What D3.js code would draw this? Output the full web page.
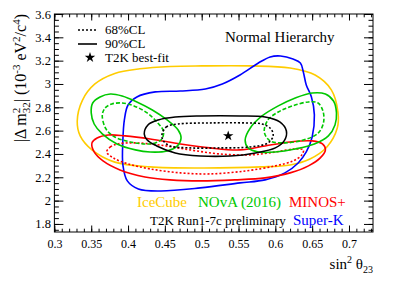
<!DOCTYPE html>
<html><head><meta charset="utf-8">
<script src="https://cdn.jsdelivr.net/npm/d3@7"></script>
<style>
body{margin:0;background:#fff}
svg{display:block}
text{font-family:"Liberation Serif","Times New Roman",serif}
</style>
</head><body>
<svg id="c" width="415" height="281"></svg>
<script>
// ---------- data (sin^2 theta23, |dm^2_32| in 1e-3 eV^2) ----------
const xTicks = [0.3,0.35,0.4,0.45,0.5,0.55,0.6,0.65,0.7];
const xTickLabels = ["0.3","0.35","0.4","0.45","0.5","0.55","0.6","0.65","0.7"];
const yTicks = [1.8,2.0,2.2,2.4,2.6,2.8,3.0,3.2,3.4,3.6];
const yTickLabels = ["1.8","2","2.2","2.4","2.6","2.8","3","3.2","3.4","3.6"];

const iceCube90 = [[0.331,2.68],[0.338,2.86],[0.355,3.00],[0.382,3.09],[0.416,3.13],[0.457,3.15],[0.50,3.155],[0.566,3.155],[0.62,3.137],[0.654,3.077],[0.676,2.95],[0.685,2.76],[0.684,2.62],[0.670,2.46],[0.647,2.357],[0.62,2.306],[0.58,2.289],[0.50,2.28],[0.43,2.289],[0.382,2.33],[0.351,2.435],[0.335,2.555]];

const novaL90 = [[0.350,2.752],[0.352,2.837],[0.362,2.889],[0.376,2.914],[0.392,2.897],[0.412,2.846],[0.433,2.777],[0.453,2.692],[0.468,2.606],[0.472,2.537],[0.467,2.469],[0.453,2.426],[0.430,2.417],[0.410,2.435],[0.385,2.486],[0.365,2.572],[0.354,2.657]];
const novaL68 = [[0.365,2.735],[0.369,2.795],[0.378,2.829],[0.392,2.837],[0.408,2.812],[0.426,2.752],[0.439,2.675],[0.448,2.597],[0.446,2.529],[0.437,2.495],[0.423,2.486],[0.403,2.503],[0.382,2.546],[0.370,2.615]];
const novaR90 = [[0.559,2.520],[0.566,2.623],[0.582,2.726],[0.604,2.812],[0.627,2.880],[0.650,2.923],[0.668,2.914],[0.679,2.854],[0.683,2.752],[0.681,2.649],[0.672,2.555],[0.653,2.486],[0.627,2.443],[0.600,2.417],[0.577,2.417],[0.563,2.452]];
const novaR68 = [[0.585,2.589],[0.590,2.692],[0.604,2.760],[0.623,2.812],[0.645,2.846],[0.658,2.837],[0.665,2.760],[0.665,2.657],[0.657,2.572],[0.638,2.520],[0.613,2.495],[0.593,2.512]];

const t2k90 = [[0.422,2.572],[0.427,2.649],[0.441,2.692],[0.464,2.717],[0.498,2.726],[0.552,2.726],[0.586,2.717],[0.606,2.675],[0.615,2.597],[0.612,2.512],[0.600,2.452],[0.573,2.409],[0.539,2.383],[0.498,2.383],[0.464,2.409],[0.439,2.469],[0.426,2.520]];
const t2k68 = [[0.446,2.563],[0.452,2.632],[0.468,2.657],[0.511,2.666],[0.559,2.666],[0.582,2.657],[0.594,2.615],[0.597,2.555],[0.590,2.495],[0.566,2.460],[0.525,2.452],[0.484,2.452],[0.457,2.469],[0.448,2.512]];
const t2kBest = [0.536, 2.555];

const minos90 = [[0.351,2.495],[0.358,2.537],[0.373,2.563],[0.396,2.555],[0.430,2.529],[0.471,2.486],[0.511,2.452],[0.552,2.435],[0.586,2.469],[0.620,2.503],[0.650,2.512],[0.664,2.486],[0.668,2.435],[0.661,2.366],[0.645,2.298],[0.620,2.238],[0.586,2.195],[0.545,2.178],[0.498,2.169],[0.457,2.178],[0.423,2.203],[0.389,2.263],[0.366,2.340],[0.354,2.417]];
const minos68 = [[0.371,2.417],[0.376,2.460],[0.386,2.486],[0.410,2.495],[0.443,2.477],[0.484,2.435],[0.525,2.400],[0.566,2.392],[0.600,2.417],[0.627,2.443],[0.638,2.435],[0.636,2.392],[0.624,2.340],[0.600,2.298],[0.559,2.254],[0.511,2.229],[0.471,2.238],[0.430,2.272],[0.400,2.315],[0.380,2.366]];

const superK90 = [[0.393,2.306],[0.393,2.520],[0.395,2.692],[0.400,2.820],[0.412,2.889],[0.437,2.932],[0.471,2.940],[0.505,2.957],[0.528,3.000],[0.552,3.077],[0.577,3.180],[0.593,3.232],[0.607,3.240],[0.624,3.214],[0.634,3.180],[0.638,3.103],[0.642,2.992],[0.649,2.889],[0.653,2.735],[0.650,2.546],[0.642,2.417],[0.631,2.323],[0.613,2.238],[0.586,2.178],[0.552,2.152],[0.498,2.109],[0.444,2.083],[0.414,2.100],[0.399,2.169]];

const C = {ice:"#ffcc00", nova:"#00c800", minos:"#ff0000", sk:"#0000ff", t2k:"#000000"};

// ---------- layout ----------
const L=54.4, R=373, T=14, B=232;
const svg = d3.select("#c");
const x = d3.scaleLinear([0.3,0.7326],[L,R]);
const y = d3.scaleLinear([1.731,3.6],[B,T]);

svg.append("clipPath").attr("id","pc").append("rect")
  .attr("x",L).attr("y",T).attr("width",R-L).attr("height",B-T);

const line = d3.line().x(d=>x(d[0])).y(d=>y(d[1])).curve(d3.curveCatmullRomClosed.alpha(0.5));
const plot = svg.append("g").attr("clip-path","url(#pc)");
function contour(data,color,dash){
  plot.append("path").attr("d",line(data)).attr("fill","none")
    .attr("stroke",color).attr("stroke-width",1.6)
    .attr("stroke-dasharray",dash||null);
}
contour(iceCube90,C.ice);
contour(superK90,C.sk);
contour(minos90,C.minos);
contour(minos68,C.minos,"2,2");
contour(novaL90,C.nova);
contour(novaR90,C.nova);
contour(novaL68,C.nova,"4,2");
contour(novaR68,C.nova,"4,2");
contour(t2k90,C.t2k);
contour(t2k68,C.t2k,"2,2");

const star = d3.symbol().type(d3.symbolStar).size(34);
plot.append("path").attr("d",star()).attr("transform",`translate(${x(t2kBest[0])},${y(t2kBest[1])})`).attr("fill","#000");

// ---------- axes ----------
const xMinor = d3.range(30,74).map(i=>i/100);
const yMinor = d3.range(35,73).map(i=>+(i*0.05).toFixed(2));
function styleAxis(g){
  g.select(".domain").remove();
  g.selectAll("line").attr("stroke","#000").attr("stroke-width",1);
  g.selectAll("text").attr("fill","#000");
}
svg.append("g").attr("transform",`translate(0,${B})`)
  .call(d3.axisBottom(x).tickValues(xTicks).tickFormat((d,i)=>xTickLabels[i]).tickSize(-6.5).tickSizeOuter(0).tickPadding(7))
  .call(styleAxis).selectAll("text").attr("font-size",12);
svg.append("g").attr("transform",`translate(0,${B})`)
  .call(d3.axisBottom(x).tickValues(xMinor).tickFormat("").tickSize(-3.3).tickSizeOuter(0)).call(styleAxis);
svg.append("g").attr("transform",`translate(0,${T})`)
  .call(d3.axisTop(x).tickValues(xTicks).tickFormat("").tickSize(-6.5).tickSizeOuter(0)).call(styleAxis);
svg.append("g").attr("transform",`translate(0,${T})`)
  .call(d3.axisTop(x).tickValues(xMinor).tickFormat("").tickSize(-3.3).tickSizeOuter(0)).call(styleAxis);

svg.append("g").attr("transform",`translate(${L},0)`)
  .call(d3.axisLeft(y).tickValues(yTicks).tickFormat((d,i)=>yTickLabels[i]).tickSize(-9).tickSizeOuter(0).tickPadding(3.5))
  .call(styleAxis).selectAll("text").attr("font-size",12.5);
svg.append("g").attr("transform",`translate(${L},0)`)
  .call(d3.axisLeft(y).tickValues(yMinor).tickFormat("").tickSize(-4.5).tickSizeOuter(0)).call(styleAxis);
svg.append("g").attr("transform",`translate(${R},0)`)
  .call(d3.axisRight(y).tickValues(yTicks).tickFormat("").tickSize(-9).tickSizeOuter(0)).call(styleAxis);
svg.append("g").attr("transform",`translate(${R},0)`)
  .call(d3.axisRight(y).tickValues(yMinor).tickFormat("").tickSize(-4.5).tickSizeOuter(0)).call(styleAxis);

svg.append("rect").attr("x",L).attr("y",T).attr("width",R-L).attr("height",B-T)
  .attr("fill","none").attr("stroke","#000").attr("stroke-width",1);

// ---------- titles ----------
const xt = svg.append("text").attr("x",R).attr("y",269).attr("text-anchor","end").attr("font-size",15);
xt.append("tspan").text("sin");
xt.append("tspan").attr("dy",-6).attr("font-size",10).text("2");
xt.append("tspan").attr("dy",6).text(" θ");
xt.append("tspan").attr("dy",4).attr("font-size",10).text("23");

const yt = svg.append("text").attr("transform","translate(26,14) rotate(-90)").attr("text-anchor","end").attr("font-size",16);
yt.append("tspan").text("|Δ m");
yt.append("tspan").attr("dy",-6.5).attr("font-size",11).text("2");
yt.append("tspan").attr("dy",10).attr("dx",-5.5).attr("font-size",11).text("32");
yt.append("tspan").attr("dy",-3.5).text("| (10");
yt.append("tspan").attr("dy",-6.5).attr("font-size",11).text("-3");
yt.append("tspan").attr("dy",6.5).text(" eV");
yt.append("tspan").attr("dy",-6.5).attr("font-size",11).text("2");
yt.append("tspan").attr("dy",6.5).text("/c");
yt.append("tspan").attr("dy",-6.5).attr("font-size",11).text("4");
yt.append("tspan").attr("dy",6.5).text(")");

svg.append("text").attr("x",225).attr("y",42).attr("font-size",15).text("Normal Hierarchy");

// ---------- legend ----------
const legend = [
  {label:"68%CL", type:"dot"},
  {label:"90%CL", type:"solid"},
  {label:"T2K best-fit", type:"star"}
];
const lg = svg.append("g");
legend.forEach((d,i)=>{
  const by = 34 + i*14;
  if(d.type==="star"){
    lg.append("path").attr("d",d3.symbol().type(d3.symbolStar).size(34)()).attr("transform",`translate(90,${by-4.5})`).attr("fill","#000");
  } else {
    lg.append("line").attr("x1",78).attr("x2",97).attr("y1",by-4).attr("y2",by-4)
      .attr("stroke","#000").attr("stroke-width",1.6).attr("stroke-dasharray",d.type==="dot"?"2,2":null);
  }
  lg.append("text").attr("x",105).attr("y",by).attr("font-size",13).text(d.label);
});

// ---------- experiment labels ----------
const expLabels = [
  {t:"IceCube", c:C.ice, x:137, y:207, s:15},
  {t:"NOvA (2016)", c:C.nova, x:198, y:207, s:15},
  {t:"MINOS+", c:C.minos, x:289, y:207, s:15},
  {t:"T2K Run1-7c preliminary", c:C.t2k, x:150, y:225, s:13},
  {t:"Super-K", c:C.sk, x:293, y:225, s:15}
];
expLabels.forEach(d=>svg.append("text").attr("x",d.x).attr("y",d.y).attr("font-size",d.s).attr("fill",d.c).text(d.t));
</script>
</body></html>
